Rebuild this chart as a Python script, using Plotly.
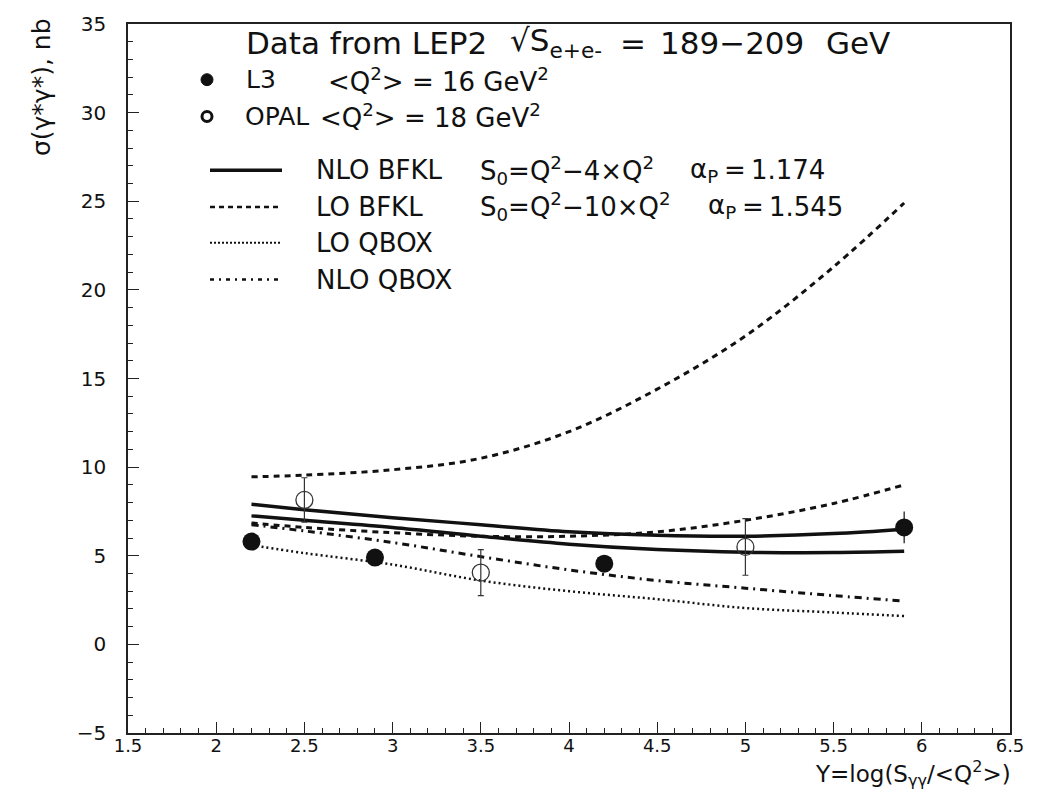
import plotly.graph_objects as go

# ---------------- data ----------------
y_grid = [2.2, 2.5, 3.0, 3.5, 4.0, 4.5, 5.0, 5.5, 5.9]

nlo_bfkl_upper = [7.9, 7.6, 7.15, 6.75, 6.35, 6.15, 6.1, 6.25, 6.5]
nlo_bfkl_lower = [7.25, 7.0, 6.6, 6.1, 5.65, 5.35, 5.2, 5.18, 5.25]
lo_bfkl_upper = [9.45, 9.55, 9.85, 10.5, 12.0, 14.4, 17.4, 21.3, 24.9]
lo_bfkl_lower = [6.85, 6.6, 6.3, 6.1, 6.1, 6.35, 7.0, 7.95, 9.0]
lo_qbox = [5.6, 5.15, 4.5, 3.6, 3.0, 2.55, 2.05, 1.8, 1.6]
nlo_qbox = [6.75, 6.4, 5.75, 4.95, 4.2, 3.6, 3.17, 2.75, 2.44]

l3_x = [2.2, 2.9, 4.2, 5.9]
l3_y = [5.8, 4.9, 4.55, 6.6]
l3_err = [0.3, 0.3, 0.3, 0.9]

opal_x = [2.5, 3.5, 5.0]
opal_y = [8.15, 4.05, 5.5]
opal_err = [1.25, 1.3, 1.6]

x_ticks = [1.5, 2.0, 2.5, 3.0, 3.5, 4.0, 4.5, 5.0, 5.5, 6.0, 6.5]
x_ticktext = ["1.5", "2", "2.5", "3", "3.5", "4", "4.5", "5", "5.5", "6", "6.5"]
y_ticks = [-5, 0, 5, 10, 15, 20, 25, 30, 35]

# ---------------- layout geometry ----------------
W, H = 1039, 793
L, R, T, B = 128, 29, 20, 60
PW = W - L - R
PH = H - T - B
FONT = "DejaVu Sans"
INK = "#111111"


def px(xp):
    return (xp - L) / PW


def py(yp):
    return (H - B - yp) / PH


fig = go.Figure()

line_kw = dict(mode="lines", line_shape="spline", showlegend=False, hoverinfo="skip")
fig.add_trace(go.Scatter(x=y_grid, y=lo_bfkl_upper, line=dict(color=INK, width=3, dash="6px,5px"), **line_kw))
fig.add_trace(go.Scatter(x=y_grid, y=lo_bfkl_lower, line=dict(color=INK, width=3, dash="6px,5px"), **line_kw))
fig.add_trace(go.Scatter(x=y_grid, y=nlo_qbox, line=dict(color=INK, width=3, dash="7px,5px,2px,5px"), **line_kw))
fig.add_trace(go.Scatter(x=y_grid, y=lo_qbox, line=dict(color=INK, width=2.5, dash="2px,3px"), **line_kw))
fig.add_trace(go.Scatter(x=y_grid, y=nlo_bfkl_upper, line=dict(color=INK, width=3.5), **line_kw))
fig.add_trace(go.Scatter(x=y_grid, y=nlo_bfkl_lower, line=dict(color=INK, width=3.5), **line_kw))

fig.add_trace(go.Scatter(
    x=opal_x, y=opal_y, mode="markers", showlegend=False,
    marker=dict(symbol="circle-open", size=17, color="#333333", line=dict(width=1.3)),
    error_y=dict(type="data", array=opal_err, color="#333333", thickness=1.2, width=3),
))
fig.add_trace(go.Scatter(
    x=l3_x, y=l3_y, mode="markers", showlegend=False,
    marker=dict(symbol="circle", size=18, color=INK),
    error_y=dict(type="data", array=l3_err, color=INK, thickness=1.2, width=0),
))

# ---------------- legend (drawn by hand to match layout) ----------------
shapes = []
annotations = []

shapes.append(dict(type="circle", xref="paper", yref="paper",
                   x0=px(201), x1=px(213), y0=py(82), y1=py(70),
                   fillcolor=INK, line=dict(color=INK, width=1)))
shapes.append(dict(type="circle", xref="paper", yref="paper",
                   x0=px(202), x1=px(212), y0=py(118), y1=py(108),
                   fillcolor="white", line=dict(color=INK, width=3)))

legend_lines = [
    (167, dict(color=INK, width=3.5)),
    (204, dict(color=INK, width=2.5, dash="5px,4px")),
    (240, dict(color=INK, width=2, dash="2px,2px")),
    (277, dict(color=INK, width=2.5, dash="4px,5px,2px,5px")),
]
for yp, ln in legend_lines:
    shapes.append(dict(type="line", xref="paper", yref="paper",
                       x0=px(210), x1=px(282), y0=py(yp), y1=py(yp), line=ln))

legend_texts = [
    (244, 76, "L3", 25),
    (326, 76, "&lt;Q<sup>2</sup>&gt; = 16 GeV<sup>2</sup>", 26),
    (243, 113, "OPAL", 25),
    (318, 113, "&lt;Q<sup>2</sup>&gt; = 18 GeV<sup>2</sup>", 26),
    (314, 167, "NLO BFKL", 26),
    (478, 167, "S<sub>0</sub>=Q<sup>2</sup>\u22124\u00d7Q<sup>2</sup>", 26),
    (688, 167, "\u03b1<sub>P</sub>", 26),
    (722, 167, "=\u20091.174", 26),
    (314, 204, "LO BFKL", 26),
    (478, 204, "S<sub>0</sub>=Q<sup>2</sup>\u221210\u00d7Q<sup>2</sup>", 26),
    (706, 204, "\u03b1<sub>P</sub>", 26),
    (740, 204, "=\u20091.545", 26),
    (314, 240, "LO QBOX", 26),
    (314, 277, "NLO QBOX", 26),
]
for xp, yp, txt, fs in legend_texts:
    annotations.append(dict(xref="paper", yref="paper", x=px(xp), y=py(yp),
                            xanchor="left", yanchor="middle", showarrow=False,
                            text=txt, font=dict(family=FONT, size=fs, color=INK)))

# title (split in pieces to reproduce the wide spacing)
title_parts = [
    (244, "Data from LEP2"),
    (508, "\u221aS<sub>e+e-</sub>"),
    (618, "="),
    (658, "189\u2212209"),
    (824, "GeV"),
]
for xp, txt in title_parts:
    annotations.append(dict(xref="paper", yref="paper", x=px(xp), y=py(39),
                            xanchor="left", yanchor="middle", showarrow=False,
                            text=txt, font=dict(family=FONT, size=31, color=INK)))

# axis titles
annotations.append(dict(xref="paper", yref="paper", x=px(1013), y=py(792),
                        xanchor="right", yanchor="bottom", showarrow=False,
                        text="Y=log(S<sub>\u03b3\u03b3</sub>/&lt;Q<sup>2</sup>&gt;)",
                        font=dict(family=FONT, size=23, color=INK)))
annotations.append(dict(xref="paper", yref="paper", x=px(41), y=py(12),
                        xanchor="center", yanchor="top", showarrow=False, textangle=-90,
                        text="\u03c3(\u03b3*\u03b3*), nb",
                        font=dict(family=FONT, size=25, color=INK)))

axis_common = dict(
    showgrid=False, zeroline=False, showline=True, linecolor="#222222", linewidth=1.5,
    mirror=True, ticks="inside", ticklen=11, tickwidth=1.2, tickcolor="#222222",
)

fig.update_layout(
    width=W, height=H,
    margin=dict(l=L, r=R, t=T, b=B),
    paper_bgcolor="white", plot_bgcolor="white",
    showlegend=False,
    shapes=shapes, annotations=annotations,
    xaxis=dict(range=[1.5, 6.5], tickvals=x_ticks, ticktext=x_ticktext, ticklabelstandoff=-4,
               tickfont=dict(family=FONT, size=18, color=INK),
               minor=dict(dtick=0.1, ticks="inside", ticklen=5, tickcolor="#222222"),
               **axis_common),
    yaxis=dict(range=[-5, 35], tickvals=y_ticks, ticklabelstandoff=16,
               tickfont=dict(family=FONT, size=20, color=INK),
               minor=dict(dtick=1, ticks="inside", ticklen=5, tickcolor="#222222"),
               **axis_common),
)

fig.write_html("out.html", config={"displayModeBar": False},
               post_script="document.body.style.margin='0';")
